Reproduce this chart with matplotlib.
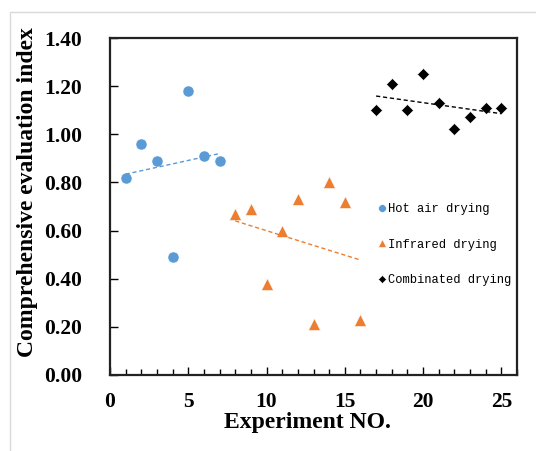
import matplotlib
matplotlib.use("Agg")
import matplotlib.pyplot as plt
import numpy as np
from matplotlib.patches import Rectangle
from matplotlib.ticker import MultipleLocator, FormatStrFormatter

# data
hot_x = [1, 2, 3, 4, 5, 6, 7]
hot_y = [0.82, 0.96, 0.89, 0.49, 1.18, 0.91, 0.89]

ir_x = [8, 9, 10, 11, 12, 13, 14, 15, 16]
ir_y = [0.67, 0.69, 0.38, 0.60, 0.73, 0.21, 0.80, 0.72, 0.23]

comb_x = [17, 18, 19, 20, 21, 22, 23, 24, 25]
comb_y = [1.10, 1.21, 1.10, 1.25, 1.13, 1.02, 1.07, 1.11, 1.11]

labels = ["Hot air drying", "Infrared drying", "Combinated drying"]
colors = ["#5B9BD5", "#ED7D31", "#000000"]

fig = plt.figure(figsize=(5.36, 4.51), dpi=100)
ax = fig.add_axes([110/536, 1-375/451, 407/536, 337/451])

# light grey chart-area border (partly cropped in the original)
fig.add_artist(Rectangle((10/536, -0.2), 1.2, 0.2 + 1-12/451, transform=fig.transFigure,
                         fill=False, edgecolor="#d9d9d9", lw=1))

series = [(hot_x, hot_y, "o", 8.0), (ir_x, ir_y, "^", 8.6), (comb_x, comb_y, "D", 6.3)]
for (xs, ys, mk, ms), lab, c in zip(series, labels, colors):
    ax.plot(xs, ys, linestyle="none", marker=mk, ms=ms, color=c, mec="white", mew=0.4, label=lab)
    # linear trend line
    k, b = np.polyfit(xs, ys, 1)
    xx = np.array([xs[0], xs[-1]])
    ax.plot(xx, k*xx + b, linestyle=(0, (3, 2)), lw=1, color=c)

ax.set_xlim(0, 26)
ax.set_ylim(0, 1.4)
ax.xaxis.set_major_locator(MultipleLocator(5))
ax.xaxis.set_minor_locator(MultipleLocator(1))
ax.yaxis.set_major_locator(MultipleLocator(0.2))
ax.yaxis.set_major_formatter(FormatStrFormatter("%.2f"))

for s in ax.spines.values():
    s.set_linewidth(1.6)
    s.set_color("#222222")

ax.tick_params(axis="x", which="major", direction="in", length=6, width=1, pad=12.5)
ax.tick_params(axis="x", which="minor", direction="in", length=4, width=1)
ax.tick_params(axis="y", which="major", direction="in", length=6, width=1, pad=20)
for t in ax.get_xticklabels() + ax.get_yticklabels():
    t.set_fontfamily("Liberation Serif")
    t.set_fontweight("bold")
    t.set_fontsize(15.5)

ax.set_xlabel("Experiment NO.", fontfamily="Liberation Serif", fontweight="bold", fontsize=17)
ax.set_ylabel("Comprehensive evaluation index", fontfamily="Liberation Serif", fontweight="bold", fontsize=17)
ax.xaxis.set_label_coords(0.485, -0.11)
ax.yaxis.set_label_coords(-0.177, 0.5415)

leg = ax.legend(loc="upper left", bbox_to_anchor=(0.66, 0.51), frameon=False,
                prop={"family": "Liberation Mono", "size": 8.7},
                handlelength=0.6, handletextpad=0.15, labelspacing=1.95,
                borderpad=0, borderaxespad=0, markerscale=0.7)

fig.savefig("out.png", dpi=100)
